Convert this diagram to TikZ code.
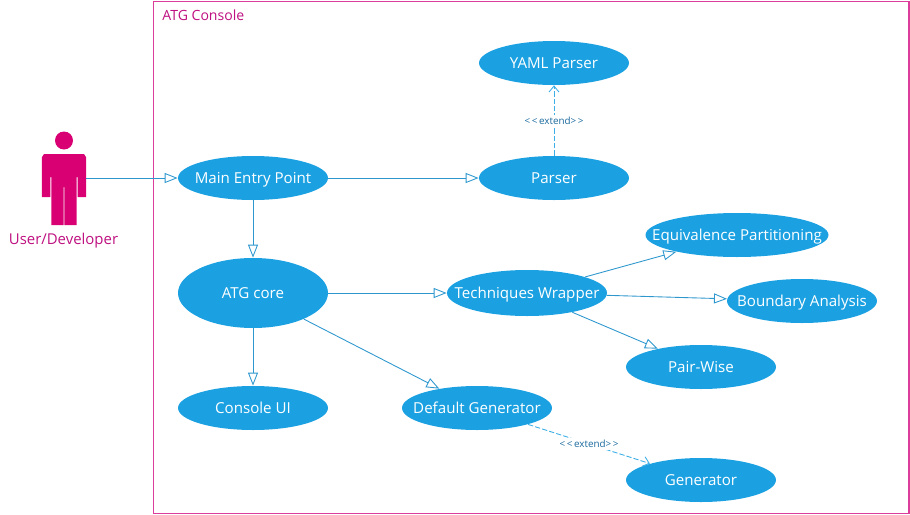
\documentclass[tikz,border=0pt]{standalone}
\usepackage{fontspec}
\setmainfont{Open Sans}
\usetikzlibrary{arrows.meta,shapes.geometric}
\definecolor{ucblue}{HTML}{1BA1E2}
\definecolor{ucline}{HTML}{2E97CE}
\definecolor{ucpink}{HTML}{D80073}
\definecolor{ucframe}{HTML}{DC3C9C}
\definecolor{uclabel}{HTML}{BE1080}
\definecolor{uctext}{HTML}{1B6A9E}
\begin{document}
\begin{tikzpicture}[
  usecase/.style={ellipse, fill=ucblue, text=white, inner xsep=-1.2cm, inner ysep=0pt, text height=7.5pt, text depth=1.4pt, minimum width=3cm, minimum height=0.88cm, font=\fontsize{8.6pt}{10pt}\selectfont},
  arrow/.style={-{Triangle[open,length=0.26cm,width=0.2cm]}, ucline, line width=0.5pt},
  extend/.style={-{Straight Barb[length=0.12cm,width=0.2cm]}, ucblue!85, dash pattern=on 3pt off 1.2pt, line width=0.5pt},
  extlabel/.style={fill=white, text=uctext, inner sep=1pt, font=\fontsize{5.6pt}{6pt}\selectfont}
]
\useasboundingbox (0,0) rectangle (18.2,-10.3);

\draw[ucframe, line width=0.8pt] (3.07,-0.03) rectangle (18.18,-10.27);
\node[anchor=west, text=uclabel, font=\fontsize{8pt}{9pt}\selectfont, inner sep=0pt] (system) at (3.24,-0.3) {ATG Console};

% Actor
\fill[ucpink] (1.28,-2.81) circle (0.18);
\fill[ucpink] (0.88,-3.08) -- (1.68,-3.08) -- (1.72,-3.14) -- (1.72,-3.94) -- (1.55,-3.94) -- (1.55,-3.54) -- (1.534,-3.54) -- (1.534,-4.50) -- (1.29,-4.50) -- (1.29,-3.74) -- (1.274,-3.74) -- (1.274,-4.50) -- (1.026,-4.50) -- (1.026,-3.54) -- (1.01,-3.54) -- (1.01,-3.94) -- (0.84,-3.94) -- (0.84,-3.14) -- cycle;
\coordinate (actor) at (1.72,-3.56);
\node[text=uclabel, font=\fontsize{8.5pt}{10pt}\selectfont, inner sep=0pt] (actorlabel) at (1.27,-4.81) {User/Developer};

\node[usecase] (yaml) at (11.08,-1.26) {YAML Parser};
\node[usecase] (parser) at (11.08,-3.56) {Parser};
\node[usecase] (main) at (5.06,-3.56) {Main Entry Point};
\node[usecase, minimum height=1.4cm] (core) at (5.06,-5.86) {ATG core};
\node[usecase] (console) at (5.06,-8.16) {Console UI};
\node[usecase, minimum width=3.2cm, minimum height=0.92cm] (wrapper) at (10.54,-5.86) {Techniques Wrapper};
\node[usecase] (default) at (9.54,-8.16) {Default Generator};
\node[usecase] (generator) at (14.02,-9.6) {Generator};
\node[usecase, minimum width=3.66cm] (equiv) at (14.74,-4.7) {Equivalence Partitioning};
\node[usecase] (boundary) at (16.04,-6.02) {Boundary Analysis};
\node[usecase] (pair) at (14.02,-7.34) {Pair-Wise};

% Associations
\draw[arrow] (actor) -- (main);
\draw[arrow] (main) -- (parser);
\draw[arrow] (main) -- (core);
\draw[arrow] (core) -- (console);
\draw[arrow] (core) -- (wrapper);
\draw[arrow] (core) -- (default);
\draw[arrow] (wrapper) -- (equiv);
\draw[arrow] (wrapper) -- (boundary);
\draw[arrow] (wrapper) -- (pair);

% Extends
\draw[extend] (parser) -- node[extlabel] {<\,<\,extend>\,>} (yaml);
\draw[extend] (default) -- node[extlabel] {<\,<\,extend>\,>} (generator);

\end{tikzpicture}
\end{document}
